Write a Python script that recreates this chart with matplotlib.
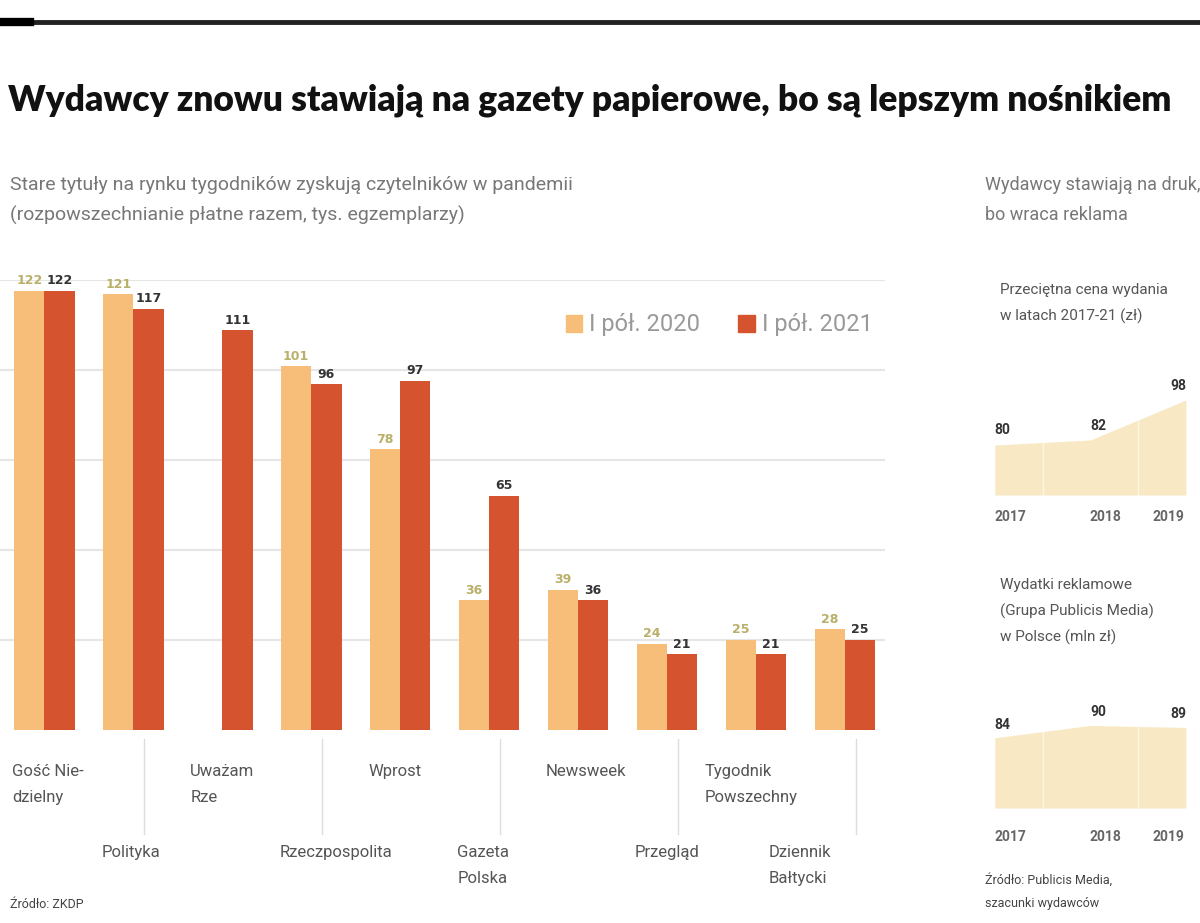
import matplotlib.pyplot as plt
import numpy as np
from matplotlib.patches import Patch

W, H = 1200, 923

# main chart data (thousand copies)
titles = ['Gość Nie-\ndzielny', 'Polityka', 'Uważam\nRze', 'Rzeczpospolita', 'Wprost',
          'Gazeta\nPolska', 'Newsweek', 'Przegląd', 'Tygodnik\nPowszechny', 'Dziennik\nBałtycki']
h1_2020 = [122, 121, np.nan, 101, 78, 36, 39, 24, 25, 28]
h1_2021 = [122, 117, 111, 96, 97, 65, 36, 21, 21, 25]
legend_labels = ['I pół. 2020', 'I pół. 2021']

# small charts on the right
years = [2017, 2018, 2019]
price = [80, 82, 98]
ads = [84, 90, 89]

c_old = '#F6BE78'
c_new = '#D6532F'
c_area = '#F8E9C4'
body = ['Roboto', 'DejaVu Sans']

fig = plt.figure(figsize=(12, 9.23), dpi=100)


def px(x, y):
    return x / W, 1 - y / H


def box(x0, y0, x1, y1):
    return [x0 / W, 1 - y1 / H, (x1 - x0) / W, (y1 - y0) / H]


# top rule
fig.add_artist(plt.Line2D([0, 1], [1 - 22 / H] * 2, color='#222222', lw=3.5))
fig.add_artist(plt.Line2D([0, 0.025], [1 - 22 / H] * 2, color='#000000', lw=6))

# title, shrunk until it fits the width
title = fig.text(*px(8, 100), 'Wydawcy znowu stawiają na gazety papierowe, bo są lepszym nośnikiem',
                 fontsize=30, fontweight='heavy', family=['Lato', 'DejaVu Sans'],
                 va='center', color='#111111')
r = fig.canvas.get_renderer()
while title.get_window_extent(r).width > 1185:
    title.set_fontsize(title.get_fontsize() - 0.5)

fig.text(*px(10, 185), 'Stare tytuły na rynku tygodników zyskują czytelników w pandemii',
         fontsize=14, color='#777777', va='center', family=body)
fig.text(*px(10, 215), '(rozpowszechnianie płatne razem, tys. egzemplarzy)',
         fontsize=14, color='#777777', va='center', family=body)

# main bar chart
ax = fig.add_axes(box(0, 280, 885, 730))
x = np.arange(len(titles))
bw = 0.34
ax.bar(x - bw / 2, h1_2020, bw, color=c_old, zorder=2)
ax.bar(x + bw / 2, h1_2021, bw, color=c_new, zorder=2)
for i in range(len(titles)):
    if not np.isnan(h1_2020[i]):
        ax.text(x[i] - bw / 2, h1_2020[i] + 1, str(h1_2020[i]), ha='center', va='bottom',
                fontsize=9, fontweight='bold', color='#B9B06A')
    ax.text(x[i] + bw / 2, h1_2021[i] + 1, str(h1_2021[i]), ha='center', va='bottom',
            fontsize=9, fontweight='bold', color='#333333')
ax.set_xlim(-0.5, 9.45)
ax.set_ylim(0, 125)
ax.set_yticks([25, 50, 75, 100, 125])
ax.yaxis.grid(True, color='#E6E6E6', lw=1.5, zorder=0)
ax.set_xticks([])
ax.tick_params(left=False, labelleft=False)
for s in ax.spines.values():
    s.set_visible(False)

ax.legend(handles=[Patch(color=c_old), Patch(color=c_new)], labels=legend_labels,
          ncol=2, frameon=False, loc='center right', bbox_to_anchor=(1.01, 0.9),
          labelcolor='#999999', handlelength=0.7, handleheight=0.7,
          columnspacing=1.6, handletextpad=0.3, prop={'family': body, 'size': 17})

# category labels, staggered in two rows
shift = [0, 0, 0, 0, 0, 0, 0, 0, -0.22, -0.5]
for i, t in enumerate(titles):
    xl = i - 0.36 + shift[i]
    if i % 2 == 0:
        ax.text(xl, -0.075, t, transform=ax.get_xaxis_transform(), ha='left', va='top',
                fontsize=12, color='#555555', linespacing=1.95, family=body)
    else:
        ax.text(xl, -0.255, t, transform=ax.get_xaxis_transform(), ha='left', va='top',
                fontsize=12, color='#555555', linespacing=1.95, family=body)
        ax.plot([i + 0.12, i + 0.12], [-0.02, -0.23], transform=ax.get_xaxis_transform(),
                color='#DDDDDD', lw=1, clip_on=False)

fig.text(*px(10, 905), 'Źródło: ZKDP', fontsize=9, color='#444444', va='center', family=body)

# right column
fig.text(*px(985, 185), 'Wydawcy stawiają na druk,', fontsize=13,
         color='#777777', va='center', family=body)
fig.text(*px(985, 215), 'bo wraca reklama', fontsize=13,
         color='#777777', va='center', family=body)


def small_area(rect, vals, ylim, title_lines, title_y, year_y):
    a = fig.add_axes(rect)
    a.fill_between(years, vals, ylim[0], color=c_area, lw=0)
    for yr in years:
        a.axvline(yr + 0.5, color='white', lw=1, alpha=0.6)
    for k, (yr, v) in enumerate(zip(years, vals)):
        last = k == len(years) - 1
        a.text(yr, v + 3, str(v), fontsize=10, fontweight='bold', color='#333333',
               ha='right' if last else 'left', va='bottom', family=body)
    a.set_xlim(2016.95, 2019.2)
    a.set_ylim(*ylim)
    a.axis('off')
    for k, line in enumerate(title_lines):
        fig.text(*px(1000, title_y + 26 * k), line, fontsize=11, color='#555555', va='center',
                 family=body)
    for k, yr in enumerate(years):
        fx = (990 + (yr - 2016.95) * 95) / W
        last = k == len(years) - 1
        fig.text(min(fx, 1198 / W), 1 - year_y / H, str(yr), fontsize=10, fontweight='bold',
                 color='#666666', va='center', ha='right' if last else 'left', family=body)
    return a


small_area(box(990, 340, 1205, 495), price, (60, 122),
           ['Przeciętna cena wydania', 'w latach 2017-21 (zł)'], 290, 517)
small_area(box(990, 680, 1205, 808), ads, (50, 112),
           ['Wydatki reklamowe', '(Grupa Publicis Media)', 'w Polsce (mln zł)'], 585, 837)

fig.text(*px(985, 880), 'Źródło: Publicis Media,', fontsize=9, color='#444444', va='center', family=body)
fig.text(*px(985, 903), 'szacunki wydawców', fontsize=9, color='#444444', va='center', family=body)

fig.savefig('out.png', dpi=100)
